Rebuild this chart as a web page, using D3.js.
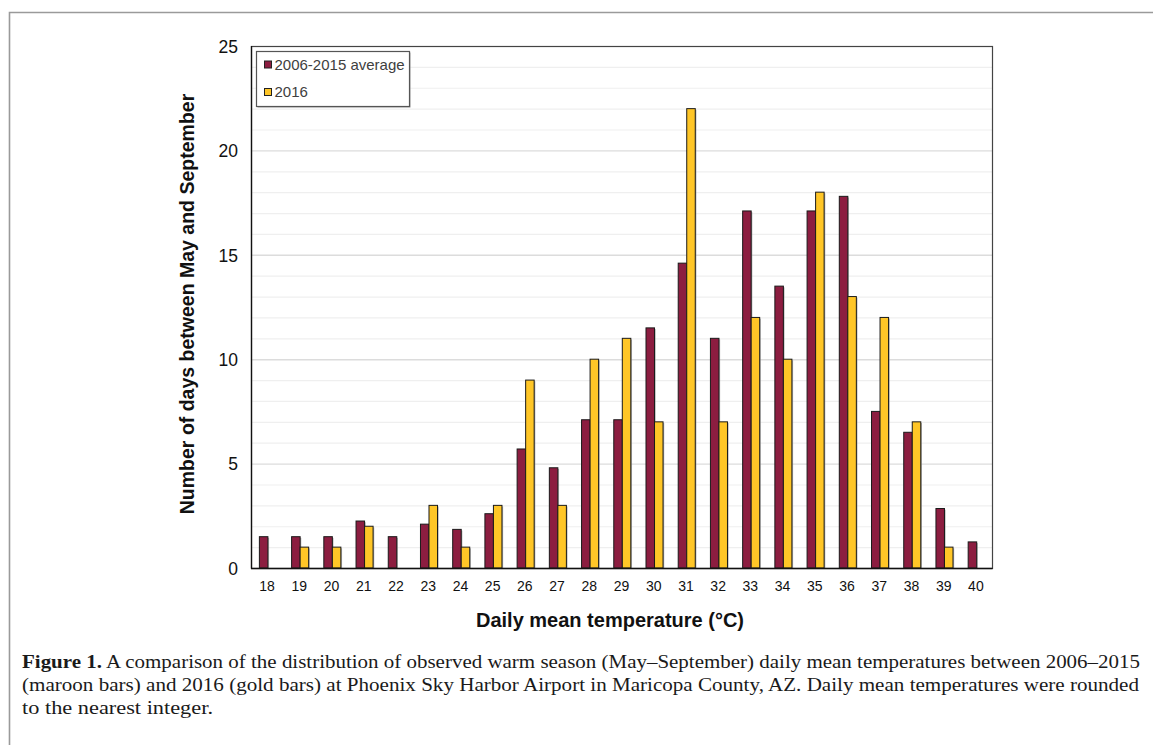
<!DOCTYPE html>
<html>
<head>
<meta charset="utf-8">
<script src="https://cdn.jsdelivr.net/npm/d3@7"></script>
<style>
  html, body { margin: 0; padding: 0; background: #fff; }
  svg { display: block; }
</style>
</head>
<body>
<svg id="chart" width="1153" height="745"></svg>
<script>
// ---- data ----
const categories = ["18","19","20","21","22","23","24","25","26","27","28","29","30","31","32","33","34","35","36","37","38","39","40"];
const seriesNames = ["2006-2015 average", "2016"];
const avg2006_2015 = [1.5, 1.5, 1.5, 2.25, 1.5, 2.1, 1.85, 2.6, 5.7, 4.8, 7.1, 7.1, 11.5, 14.6, 11.0, 17.1, 13.5, 17.1, 17.8, 7.5, 6.5, 2.85, 1.25];
const year2016     = [0, 1, 1, 2, 0, 3, 1, 3, 9, 3, 10, 11, 7, 22, 7, 12, 10, 18, 13, 12, 7, 1, 0];
const yTicks = [0, 5, 10, 15, 20, 25];
const xTitle = "Daily mean temperature (°C)";
const yTitle = "Number of days between May and September";
const captionLines = [
  {bold: "Figure 1.", text: " A comparison of the distribution of observed warm season (May–September) daily mean temperatures between 2006–2015"},
  {bold: "", text: "(maroon bars) and 2016 (gold bars) at Phoenix Sky Harbor Airport in Maricopa County, AZ. Daily mean temperatures were rounded"},
  {bold: "", text: "to the nearest integer."}
];

const colors = {"2006-2015 average": "#8C1D40", "2016": "#FFC627"};
const svg = d3.select("#chart");
const sans = "'Liberation Sans', Arial, Helvetica, sans-serif";

// outer figure frame
svg.append("path")
  .attr("d", "M9.5,760 L9.5,12.5 L1170,12.5")
  .attr("fill", "none").attr("stroke", "#9a9a9a").attr("stroke-width", 1.6);

const plot = {left: 251, right: 992, top: 46, bottom: 568};

const x = d3.scaleBand().domain(categories).range([plot.left, plot.right]).padding(0);
const xi = d3.scaleBand().domain(seriesNames).range([0, x.bandwidth()]).paddingInner(0).paddingOuter(0.89);
const y = d3.scaleLinear().domain([0, 25]).range([plot.bottom, plot.top]);

// gridlines: minor every 1, major every 5
const minor = d3.range(1, 25).filter(v => v % 5 !== 0);
svg.append("g").selectAll("line").data(minor).join("line")
  .attr("x1", plot.left).attr("x2", plot.right)
  .attr("y1", d => y(d) + 0.5).attr("y2", d => y(d) + 0.5)
  .attr("stroke", "#efefef").attr("stroke-width", 1.2);
svg.append("g").selectAll("line").data(yTicks.filter(v => v > 0 && v < 25)).join("line")
  .attr("x1", plot.left).attr("x2", plot.right)
  .attr("y1", d => y(d) + 0.5).attr("y2", d => y(d) + 0.5)
  .attr("stroke", "#dcdcdc").attr("stroke-width", 1.4);

// bars
const rows = categories.map((c, i) => ({cat: c, vals: [
  {s: seriesNames[0], v: avg2006_2015[i]},
  {s: seriesNames[1], v: year2016[i]}
]}));
const groups = svg.append("g").selectAll("g").data(rows).join("g")
  .attr("transform", d => `translate(${x(d.cat) + 0.8},0)`);
// shadow
groups.selectAll("rect.sh").data(d => d.vals.filter(v => v.v > 0)).join("rect")
  .attr("class", "sh")
  .attr("x", d => xi(d.s) + 1.2).attr("y", d => y(d.v) + 1.2)
  .attr("width", xi.bandwidth()).attr("height", d => y(0) - y(d.v) - 1.2)
  .attr("fill", "#9a9a9a").attr("opacity", 0.7);
groups.selectAll("rect.bar").data(d => d.vals.filter(v => v.v > 0)).join("rect")
  .attr("class", "bar")
  .attr("x", d => xi(d.s)).attr("y", d => y(d.v))
  .attr("width", xi.bandwidth()).attr("height", d => y(0) - y(d.v))
  .attr("fill", d => colors[d.s]).attr("stroke", "#1a1a1a").attr("stroke-width", 1);

// plot frame
svg.append("rect")
  .attr("x", plot.left + 0.5).attr("y", plot.top + 0.5)
  .attr("width", plot.right - plot.left).attr("height", plot.bottom - plot.top)
  .attr("fill", "none").attr("stroke", "#444").attr("stroke-width", 1.2);
// axes lines (black)
svg.append("line").attr("x1", plot.left + 0.5).attr("x2", plot.left + 0.5)
  .attr("y1", plot.top).attr("y2", plot.bottom + 0.5).attr("stroke", "#111").attr("stroke-width", 1.3);
svg.append("line").attr("x1", plot.left).attr("x2", plot.right + 0.5)
  .attr("y1", plot.bottom + 0.5).attr("y2", plot.bottom + 0.5).attr("stroke", "#111").attr("stroke-width", 1.3);

// axes via d3
const yAxis = svg.append("g").attr("transform", `translate(${plot.left},0)`)
  .call(d3.axisLeft(y).tickValues(yTicks).tickSize(0).tickPadding(13));
yAxis.select(".domain").remove();
yAxis.selectAll("text").attr("font-family", sans).attr("font-size", 17.5).attr("fill", "#111").attr("dy", "0.36em");

const xAxis = svg.append("g").attr("transform", `translate(0,${plot.bottom})`)
  .call(d3.axisBottom(x).tickSize(0).tickPadding(13));
xAxis.select(".domain").remove();
xAxis.selectAll("text").attr("font-family", sans).attr("font-size", 14).attr("fill", "#111").attr("dy", "0.71em");

// axis titles
svg.append("text").attr("x", 610).attr("y", 627).attr("text-anchor", "middle")
  .attr("font-family", sans).attr("font-weight", "bold").attr("font-size", 20).attr("fill", "#111")
  .text(xTitle);
svg.append("text").attr("transform", `translate(194,${(plot.top + plot.bottom) / 2 - 3}) rotate(-90)`)
  .attr("text-anchor", "middle")
  .attr("font-family", sans).attr("font-weight", "bold").attr("font-size", 19.5).attr("fill", "#111")
  .text(yTitle);

// legend
const lg = svg.append("g").attr("transform", "translate(256,51)");
lg.append("rect").attr("x", 1.5).attr("y", 1.5).attr("width", 153).attr("height", 55).attr("fill", "#a0a0a0");
lg.append("rect").attr("x", 0.5).attr("y", 0.5).attr("width", 153).attr("height", 55)
  .attr("fill", "#fff").attr("stroke", "#555").attr("stroke-width", 1.2);
seriesNames.forEach((s, i) => {
  const cy = 13.5 + i * 27.5;
  lg.append("rect").attr("x", 8.5).attr("y", cy - 3.5).attr("width", 7).attr("height", 7)
    .attr("fill", colors[s]).attr("stroke", "#222").attr("stroke-width", 1);
  lg.append("text").attr("x", 18.5).attr("y", cy).attr("dy", "0.36em")
    .attr("font-family", sans).attr("font-size", 15).attr("fill", "#404040").text(s);
});

// caption
const serif = "'Liberation Serif', 'Times New Roman', serif";
const capLens = [1118, 1117, 191];
const capY = [668, 691, 714];
captionLines.forEach((ln, i) => {
  const t = svg.append("text").attr("x", 22).attr("y", capY[i])
    .attr("font-family", serif).attr("font-size", 19.5).attr("fill", "#1a1a1a")
    .attr("textLength", capLens[i]).attr("lengthAdjust", "spacingAndGlyphs");
  if (ln.bold) t.append("tspan").attr("font-weight", "bold").text(ln.bold);
  t.append("tspan").text(ln.text);
});
</script>
</body>
</html>
